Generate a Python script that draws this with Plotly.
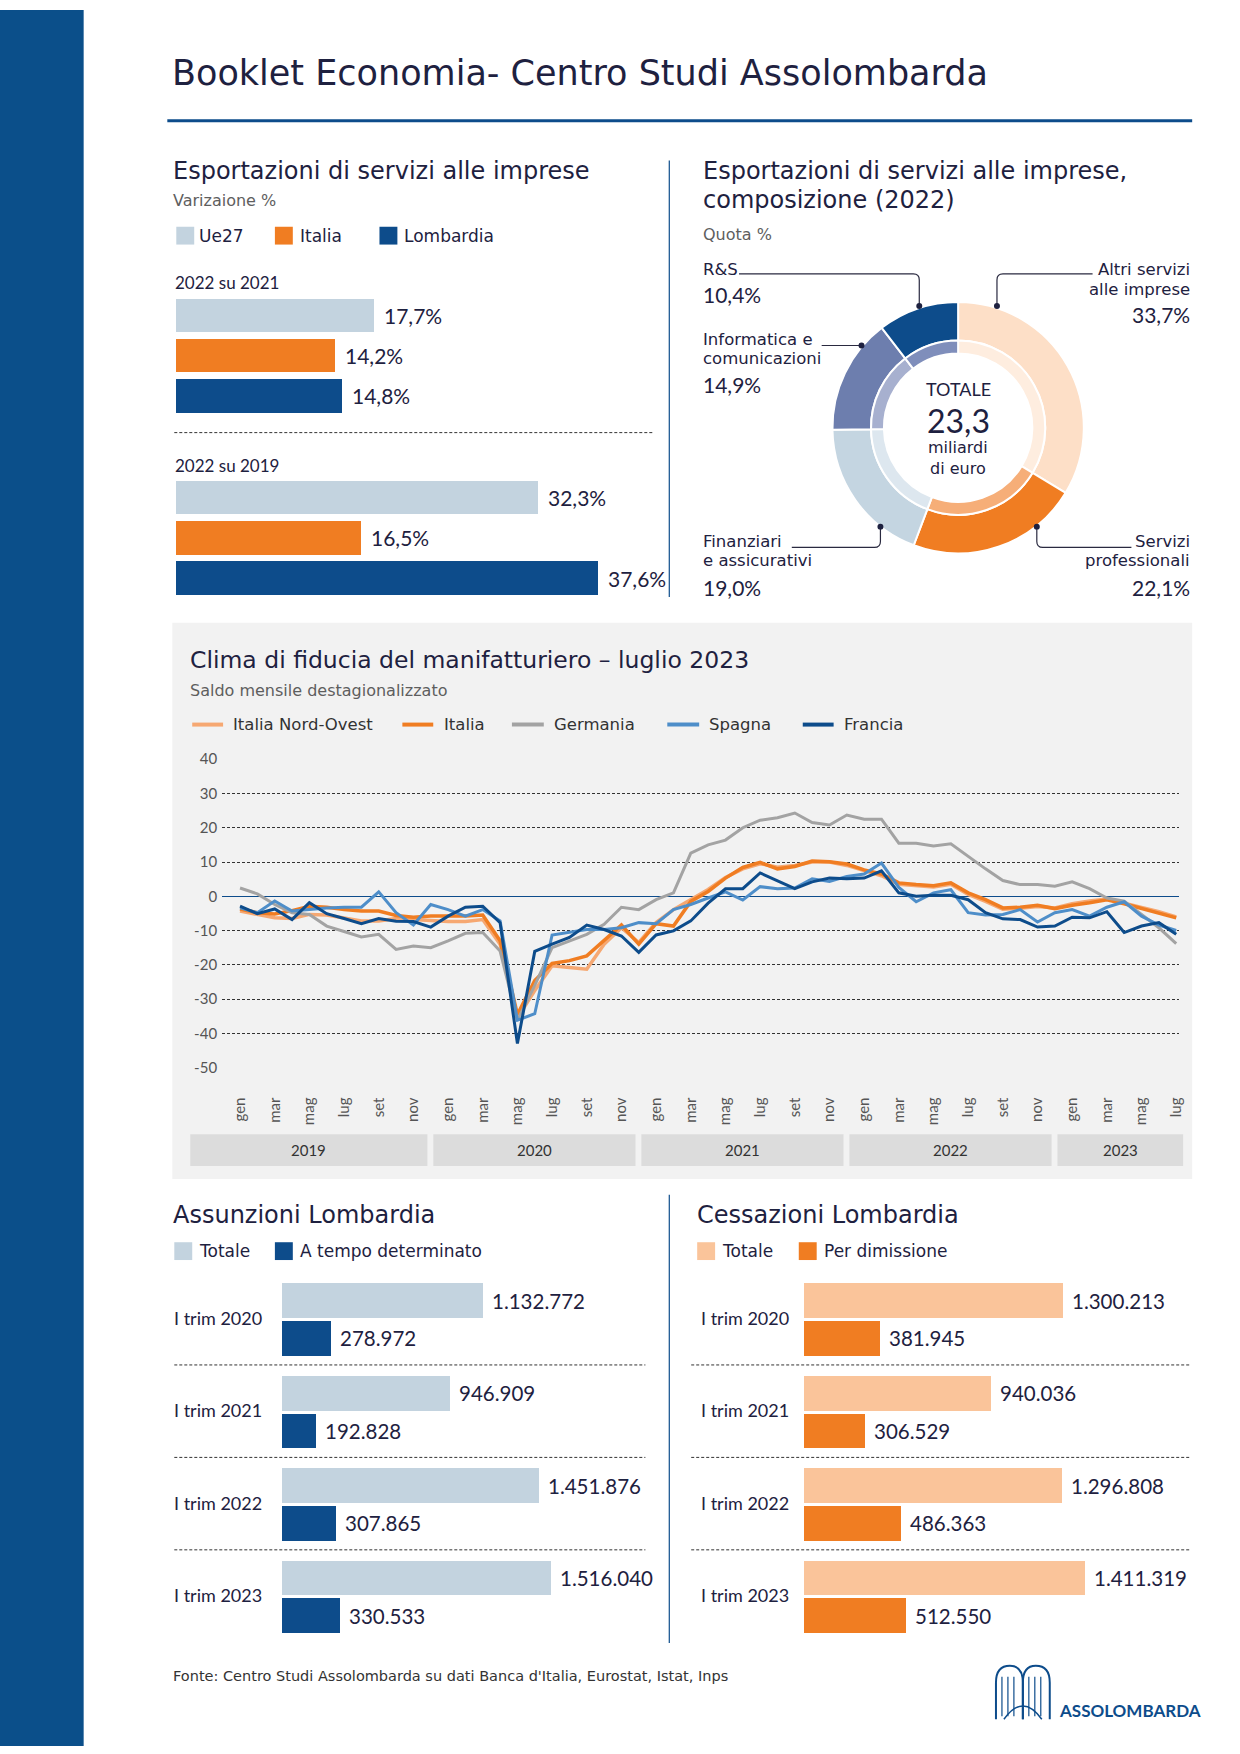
import plotly.graph_objects as go

# ------------------------------------------------------------------ DATA
exp_series = ["Ue27", "Italia", "Lombardia"]
exp_periods = ["2022 su 2021", "2022 su 2019"]
exp_2022_su_2021 = [17.7, 14.2, 14.8]
exp_2022_su_2019 = [32.3, 16.5, 37.6]

comp_labels = [["Altri servizi", "alle imprese"], ["Servizi", "professionali"],
               ["Finanziari", "e assicurativi"], ["Informatica e", "comunicazioni"], ["R&S"]]
comp_values = [33.7, 22.1, 19.0, 14.9, 10.4]
comp_total = 23.3

month_abbr = ["gen", "feb", "mar", "apr", "mag", "giu", "lug", "ago", "set", "ott", "nov", "dic"]
years = ["2019", "2020", "2021", "2022", "2023"]
line_names = ["Italia Nord-Ovest", "Italia", "Germania", "Spagna", "Francia"]
italia_nord_ovest = [-4.3, -5.3, -6.3, -6.5, -5.3, -5.5, -6.3, -7.2, -7.2, -6.5, -6.8, -7.2,
                     -7.4, -7.4, -6.8, -14.0, -35.5, -27.5, -20.3, -20.8, -21.3, -14.0, -9.2, -13.5,
                     -7.7, -3.9, -1.0, 2.0, 5.5, 8.0, 9.5, 8.5, 9.0, 10.0, 10.0, 9.0,
                     7.5, 6.0, 3.5, 3.0, 2.7, 3.5, 0.5, -1.5, -3.8, -3.5, -3.0, -3.4,
                     -2.2, -1.4, -0.8, -2.0, -3.2, -4.5, -6.0]
italia = [-3.7, -4.8, -5.2, -4.2, -2.9, -3.2, -3.9, -4.3, -4.3, -5.6, -6.1, -5.8,
          -5.8, -5.8, -5.5, -13.0, -34.5, -24.6, -19.6, -18.8, -17.4, -12.9, -8.4, -14.0,
          -8.0, -8.7, -1.5, 1.4, 5.3, 8.4, 9.9, 8.0, 8.7, 10.3, 10.1, 9.4,
          7.7, 6.5, 3.9, 3.4, 3.1, 3.9, 1.0, -1.0, -3.4, -3.2, -2.6, -3.6,
          -2.6, -1.9, -1.0, -2.2, -3.6, -4.8, -6.3]
germania = [2.4, 0.7, -2.4, -4.8, -5.3, -8.7, -10.3, -11.9, -11.1, -15.5, -14.5, -15.0,
            -13.0, -10.8, -10.6, -16.0, -36.2, -26.0, -15.0, -13.0, -11.1, -8.2, -3.2, -3.9,
            -1.0, 1.0, 12.6, 15.0, 16.4, 20.0, 22.2, 22.9, 24.3, 21.5, 20.8, 23.7,
            22.5, 22.5, 15.5, 15.5, 14.7, 15.3, 11.6, 8.0, 4.6, 3.4, 3.4, 2.9,
            4.2, 2.2, -0.5, -1.4, -5.3, -9.2, -13.8]
spagna = [-3.4, -4.8, -1.4, -4.3, -3.9, -3.4, -3.2, -3.2, 1.3, -4.8, -8.4, -2.4,
          -3.9, -5.8, -3.9, -7.2, -36.2, -34.3, -11.3, -10.6, -9.7, -9.7, -9.2, -7.7,
          -8.0, -3.9, -2.4, -0.5, 1.3, -1.1, 2.8, 2.2, 2.4, 5.1, 4.3, 5.8,
          6.5, 9.7, 2.6, -1.6, 1.0, 1.9, -4.8, -5.5, -5.3, -3.9, -7.5, -4.8,
          -3.9, -5.8, -3.2, -1.6, -5.8, -8.4, -10.0]
francia = [-2.9, -5.1, -3.7, -6.8, -1.9, -5.1, -6.5, -8.0, -6.5, -7.3, -7.4, -9.0,
           -5.8, -3.2, -2.9, -7.7, -43.0, -16.1, -14.0, -12.0, -8.4, -9.7, -11.6, -16.4,
           -11.3, -10.1, -7.2, -2.0, 2.2, 2.2, 6.8, 4.5, 2.2, 4.2, 5.3, 5.1,
           5.3, 7.4, 1.0, 0.0, 0.3, 0.3, -1.0, -4.8, -6.6, -6.8, -9.0, -8.7,
           -6.1, -6.3, -4.5, -10.6, -8.7, -7.7, -11.1]
y_ticks = [40, 30, 20, 10, 0, -10, -20, -30, -40, -50]

quarters = ["I trim 2020", "I trim 2021", "I trim 2022", "I trim 2023"]
ass_labels = ["Totale", "A tempo determinato"]
ass_totale = [1132772, 946909, 1451876, 1516040]
ass_determinato = [278972, 192828, 307865, 330533]
cess_labels = ["Totale", "Per dimissione"]
cess_totale = [1300213, 940036, 1296808, 1411319]
cess_dimissione = [381945, 306529, 486363, 512550]

# ------------------------------------------------------------------ STYLE / HELPERS
W, H = 1240, 1754
FT = "DejaVu Sans"     # wide geometric-like text
FN = "Lato"            # numbers / narrow labels
DARK = "#1E2140"
GREY_TXT = "#5E5E5E"
BLUE = "#0D4C8B"
ORANGE = "#F07D22"
UE_GREY = "#C3D3DF"
PEACH = "#FAC49A"
LINE_COLORS = ["#F6A872", "#F07D22", "#A3A3A3", "#4E8EC9", "#0D4C8B"]
LINE_WIDTHS = [3.5, 3.5, 3, 3, 3]


def fx(x):
    return x / W


def fy(y):
    return 1 - y / H


def it_pct(v):
    return f"{v:.1f}".replace(".", ",") + "%"


def it_int(v):
    return f"{v:,}".replace(",", ".")


annotations = []
shapes = []


def text(x, y, s, size=16, color=DARK, xanchor="left", bold=False, family=FT):
    if bold:
        s = f"<b>{s}</b>"
    annotations.append(dict(x=fx(x), y=fy(y), xref="paper", yref="paper", text=s,
                            showarrow=False, xanchor=xanchor, yanchor="middle",
                            font=dict(size=size, color=color, family=family)))


def rect(x0, y0, x1, y1, color, layer="below"):
    shapes.append(dict(type="rect", xref="paper", yref="paper", x0=fx(x0), x1=fx(x1),
                       y0=fy(y1), y1=fy(y0), fillcolor=color, line=dict(width=0), layer=layer))


def seg(x0, y0, x1, y1, color, width=1, dash="solid", layer="above"):
    shapes.append(dict(type="line", xref="paper", yref="paper", x0=fx(x0), x1=fx(x1),
                       y0=fy(y0), y1=fy(y1), line=dict(color=color, width=width, dash=dash),
                       layer=layer))


def path(cmds, color, width=1.2, fill=None):
    parts = []
    for c, pts in cmds:
        parts.append(c + " " + " ".join(f"{fx(x):.5f},{fy(y):.5f}" for x, y in pts))
    shapes.append(dict(type="path", xref="paper", yref="paper", path=" ".join(parts),
                       line=dict(color=color, width=width),
                       fillcolor=fill if fill else "rgba(0,0,0,0)"))


def dot(x, y, r=3, color=DARK):
    shapes.append(dict(type="circle", xref="paper", yref="paper", x0=fx(x - r), x1=fx(x + r),
                       y0=fy(y + r), y1=fy(y - r), fillcolor=color, line=dict(width=0)))


fig = go.Figure()

# ------------------------------------------------------------------ PAGE FRAME
rect(0, 0, 84, H, "#0B4F8A")
text(171, 64, "Booklet Economia- Centro Studi Assolombarda", size=35)
seg(168, 112, 1197, 112, BLUE, width=3)
seg(672, 152, 672, 593, BLUE, width=1.2)
seg(672, 1197, 672, 1650, BLUE, width=1.2)

# ------------------------------------------------------------------ 1) EXPORT BARS
exp_colors = [UE_GREY, ORANGE, BLUE]
text(172, 163, "Esportazioni di servizi alle imprese", size=24)
text(172, 192, "Varizaione %", size=16, color=GREY_TXT)
leg_x = [(177, 198), (276, 299), (381, 404)]
for (sx, tx), name, col in zip(leg_x, exp_series, exp_colors):
    rect(sx, 219, sx + 18, 237, col, layer="above")
    text(tx, 228, name, size=17)

g_centers = [308.5, 492.7]
step = 40.7
text(174, 275, exp_periods[0], size=17, family=FN)
text(174, 460, exp_periods[1], size=17, family=FN)
seg(175, 427, 655, 427, "#333333", width=1, dash="3px,2px")

for s, (name, col) in enumerate(zip(exp_series, exp_colors)):
    vals = [exp_2022_su_2021[s], exp_2022_su_2019[s]]
    ys = [g + s * step for g in g_centers]
    fig.add_trace(go.Bar(x=vals, y=ys, orientation="h", width=34, marker=dict(color=col, line=dict(width=0)),
                         xaxis="x", yaxis="y", showlegend=False, hoverinfo="skip"))
    for v, yy in zip(vals, ys):
        annotations.append(dict(x=v, y=yy, xref="x", yref="y", text=it_pct(v), showarrow=False,
                                xanchor="left", yanchor="middle", xshift=8,
                                font=dict(size=21, color=DARK, family=FN)))

# ------------------------------------------------------------------ 2) DONUT
text(704, 163, "Esportazioni di servizi alle imprese,", size=24)
text(704, 192, "composizione (2022)", size=24)
text(704, 227, "Quota %", size=16, color=GREY_TXT)

cx, cy, R = 962, 422, 127
outer_cols = ["#FDDFC7", "#F07D22", "#C4D5E1", "#6D7EAE", "#0D4C8B"]
inner_cols = ["#FEEDDF", "#F6AE78", "#DDE7EF", "#A7B0CF", "#7F8EBB"]
for rad, hole, cols in [(R, 88 / R, outer_cols), (88, 75 / 88, inner_cols)]:
    fig.add_trace(go.Pie(values=comp_values, labels=[" ".join(l) for l in comp_labels],
                         sort=False, direction="clockwise", rotation=0, hole=hole,
                         marker=dict(colors=cols, line=dict(color="white", width=2)),
                         textinfo="none", hoverinfo="skip", showlegend=False,
                         domain=dict(x=[fx(cx - rad), fx(cx + rad)], y=[fy(cy + rad), fy(cy - rad)])))

text(cx, 383, "TOTALE", size=18, xanchor="center", family=FN)
text(cx, 415, f"{comp_total:.1f}".replace(".", ","), size=32, xanchor="center", family=FN)
text(cx, 442, "miliardi", size=16, xanchor="center")
text(cx, 463, "di euro", size=16, xanchor="center")

# label positions (layout): Altri (right top), Servizi (right bottom), Finanziari (left bottom),
# Informatica (left middle), R&S (left top)
lab_pos = [("right", 1197, [262, 282], 308), ("right", 1197, [537, 556], 583),
           ("left", 704, [537, 556], 583), ("left", 704, [333, 352], 378),
           ("left", 704, [262], 287)]
for (side, x, ly, pyv), lines, v in zip(lab_pos, comp_labels, comp_values):
    for yy, ln in zip(ly, lines):
        text(x, yy, ln, size=16.5, xanchor=side)
    text(x, pyv, it_pct(v), size=21, xanchor=side, family=FN)

LC = "#2A2A40"
path([("M", [(742, 266.7)]), ("L", [(917, 266.7)]), ("Q", [(923, 266.7), (923, 272.7)]), ("L", [(923, 299)])], LC)
dot(923, 299)
path([("M", [(1097, 266.7)]), ("L", [(1007, 266.7)]), ("Q", [(1001, 266.7), (1001, 272.7)]), ("L", [(1001, 299)])], LC)
dot(1001, 299)
path([("M", [(825, 339)]), ("L", [(865, 339)])], LC)
dot(865, 339)
path([("M", [(795, 543)]), ("L", [(878, 543)]), ("Q", [(884, 543), (884, 537)]), ("L", [(884, 522)])], LC)
dot(884, 522)
path([("M", [(1136, 543)]), ("L", [(1047, 543)]), ("Q", [(1041, 543), (1041, 537)]), ("L", [(1041, 522)])], LC)
dot(1041, 522)

# ------------------------------------------------------------------ 3) LINE CHART
rect(173, 619, 1197, 1181, "#F2F2F2")
text(189, 657, "Clima di fiducia del manifatturiero – luglio 2023", size=23.5)
text(189, 688, "Saldo mensile destagionalizzato", size=16, color=GREY_TXT)
leg_lines = [(193, 224, 232), (404, 435, 444), (514, 546, 554), (670, 702, 710), (806, 837, 845)]
for (a, b, t), name, col in zip(leg_lines, line_names, LINE_COLORS):
    seg(a, 722, b, 722, col, width=4)
    text(t, 722, name, size=16.5, color="#333333")

series = [italia_nord_ovest, italia, germania, spagna, francia]
n = len(francia)
idx = list(range(n))
X0_PX, DX = 241, 17.407          # pixel of first month and pixels per month
PL, PR, PT, PB = 223, 1184, 757, 1068.5
for name, vals, col, wd in zip(line_names, series, LINE_COLORS, LINE_WIDTHS):
    fig.add_trace(go.Scatter(x=idx, y=vals, mode="lines", name=name,
                             line=dict(color=col, width=wd), xaxis="x2", yaxis="y2",
                             showlegend=False, hoverinfo="skip"))

# year boxes under the month labels
for k, yr in enumerate(years):
    j = 12 * k
    a = j - 0.85 if k > 0 else j - 2.87
    b = min(j + 10.81, n - 1 + 0.4)
    xa, xb = X0_PX + a * DX, X0_PX + b * DX
    rect(xa, 1136, xb, 1168, "#DCDCDC")
    text((xa + xb) / 2, 1152, yr, size=15, color="#333333", xanchor="center", family=FN)

# ------------------------------------------------------------------ 4) BOTTOM BARS
GSP = 93.4
TOT_C, SUB_C = 1304.2, 1342.2
for (title, tx, sqx, labs, cols) in [
        ("Assunzioni Lombardia", 172, [(175, 198), (276, 299)], ass_labels, [UE_GREY, BLUE]),
        ("Cessazioni Lombardia", 698, [(700, 723), (802, 825)], cess_labels, [PEACH, ORANGE])]:
    text(tx, 1217, title, size=24)
    for (sx, lx), lab, col in zip(sqx, labs, cols):
        rect(sx, 1245, sx + 18, 1263, col, layer="above")
        text(lx, 1254, lab, size=17)

panels = [("x3", "y3", 173, 175, 648, [ass_totale, ass_determinato], [UE_GREY, BLUE]),
          ("x4", "y4", 702, 694, 1196, [cess_totale, cess_dimissione], [PEACH, ORANGE])]
for xa_, ya_, lab_x, s0, s1, data, cols in panels:
    for g, q in enumerate(quarters):
        text(lab_x, (TOT_C + SUB_C) / 2 + g * GSP - 2, q, size=18, family=FN)
        if g < len(quarters) - 1:
            seg(s0, 1369 + g * GSP, s1, 1369 + g * GSP, "#333333", width=1, dash="3px,2px")
    for k, (vals, col) in enumerate(zip(data, cols)):
        ys = [(TOT_C if k == 0 else SUB_C) + g * GSP for g in range(len(vals))]
        fig.add_trace(go.Bar(x=vals, y=ys, orientation="h", width=35,
                             marker=dict(color=col, line=dict(width=0)),
                             xaxis=xa_, yaxis=ya_, showlegend=False, hoverinfo="skip"))
        for v, yy in zip(vals, ys):
            annotations.append(dict(x=v, y=yy, xref=xa_, yref=ya_, text=it_int(v), showarrow=False,
                                    xanchor="left", yanchor="middle", xshift=7,
                                    font=dict(size=20.5, color=DARK, family=FN)))

# ------------------------------------------------------------------ FOOTER
text(172, 1683, "Fonte: Centro Studi Assolombarda su dati Banca d'Italia, Eurostat, Istat, Inps",
     size=14.5, color="#333333")
text(1061, 1718, "ASSOLOMBARDA", size=17, color=BLUE, bold=True, family=FN)
# simplified logo mark
path([("M", [(1000, 1727)]), ("L", [(1000, 1690)]), ("Q", [(1000, 1673), (1014, 1673)]),
      ("Q", [(1027, 1673), (1027, 1690)]), ("L", [(1027, 1727)])], BLUE, width=2)
path([("M", [(1027, 1727)]), ("L", [(1027, 1690)]), ("Q", [(1027, 1673), (1040, 1673)]),
      ("Q", [(1054, 1673), (1054, 1690)]), ("L", [(1054, 1727)])], BLUE, width=2)
for xx in [1006, 1012, 1018, 1033, 1039, 1045]:
    seg(xx, 1684, xx, 1724, BLUE, width=1.2)
path([("M", [(1008, 1727)]), ("Q", [(1027, 1700), (1046, 1727)])], BLUE, width=1.5)

# ------------------------------------------------------------------ AXES
hidden = dict(visible=False, showgrid=False, zeroline=False, fixedrange=True)
fig.update_layout(
    width=W, height=H, margin=dict(l=0, r=0, t=0, b=0, pad=0),
    paper_bgcolor="white", plot_bgcolor="rgba(0,0,0,0)",
    font=dict(family=FT, color=DARK), showlegend=False, bargap=0,
    xaxis=dict(domain=[fx(176.7), fx(655)], range=[0, (655 - 176.7) / 11.26], anchor="y", **hidden),
    yaxis=dict(domain=[fy(601), fy(284)], range=[601, 284], anchor="x", **hidden),
    xaxis2=dict(domain=[fx(PL), fx(PR)], range=[(PL - X0_PX) / DX, (PR - X0_PX) / DX], anchor="y2",
                showgrid=False, zeroline=False, showline=False, fixedrange=True,
                tickmode="array", tickvals=idx[::2], ticktext=[month_abbr[i % 12] for i in idx[::2]],
                tickangle=-90, ticks="", ticklabelstandoff=26,
                tickfont=dict(size=15, color="#555555", family=FN)),
    yaxis2=dict(domain=[fy(PB), fy(PT)], range=[-50, 40], anchor="x2", fixedrange=True,
                tickmode="array", tickvals=y_ticks, ticktext=[str(v) for v in y_ticks],
                showgrid=True, gridcolor="#333333", gridwidth=1, griddash="3px,2px",
                zeroline=True, zerolinecolor=BLUE, zerolinewidth=1.2, showline=False,
                ticks="", ticklabelstandoff=4,
                tickfont=dict(size=15, color="#555555", family=FN)),
    xaxis3=dict(domain=[fx(283), fx(660)], range=[0, (660 - 283) / 178 * 1e6], anchor="y3", **hidden),
    yaxis3=dict(domain=[fy(1650), fy(1280)], range=[1650, 1280], anchor="x3", **hidden),
    xaxis4=dict(domain=[fx(807), fx(1195)], range=[0, (1195 - 807) / 200 * 1e6], anchor="y4", **hidden),
    yaxis4=dict(domain=[fy(1650), fy(1280)], range=[1650, 1280], anchor="x4", **hidden),
    annotations=annotations, shapes=shapes,
)

fix_page = ("document.documentElement.style.margin='0';document.documentElement.style.padding='0';"
            "document.body.style.margin='0';document.body.style.padding='0';"
            "var gd=document.getElementsByClassName('plotly-graph-div')[0];"
            "gd.style.position='absolute';gd.style.top='0px';gd.style.left='0px';")
fig.write_html("out.html", config={"displayModeBar": False, "staticPlot": True}, post_script=fix_page)
